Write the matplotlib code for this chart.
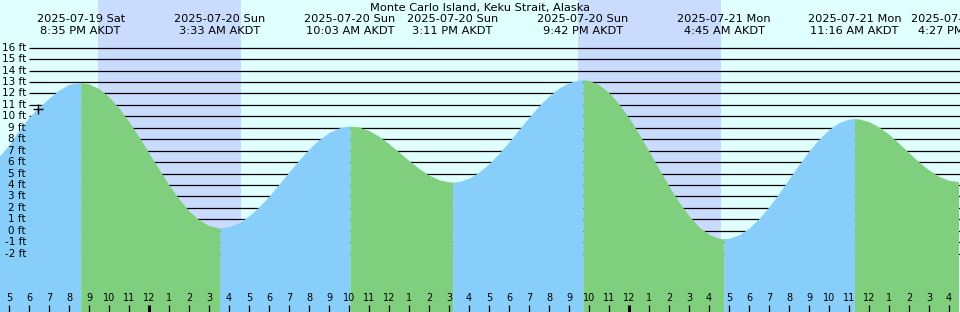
import matplotlib
matplotlib.use("Agg")
import matplotlib.pyplot as plt
import matplotlib.transforms as mtransforms

# time axis: hours after 5 PM AKDT 2025-07-19
title = "Monte Carlo Island, Keku Strait, Alaska"

# high / low tides
ext_hours = [3.583, 10.55, 17.05, 22.183, 28.7, 35.75, 42.267, 47.45]
ext_heights = [12.95, 0.25, 9.15, 4.25, 13.2, -0.7, 9.8, 4.3]
ext_dates = ["2025-07-19 Sat", "2025-07-20 Sun", "2025-07-20 Sun", "2025-07-20 Sun",
             "2025-07-20 Sun", "2025-07-21 Mon", "2025-07-21 Mon", "2025-07-21 Mon"]
ext_times = ["8:35 PM AKDT", "3:33 AM AKDT", "10:03 AM AKDT", "3:11 PM AKDT",
             "9:42 PM AKDT", "4:45 AM AKDT", "11:16 AM AKDT", "4:27 PM AKDT"]

hours = [x / 2 for x in range(-2, 96)]
heights = [5.6, 6.5, 7.5, 8.8, 9.9, 10.8, 11.6, 12.3, 12.8, 12.94,
           12.84, 12.41, 11.70, 10.72, 9.54, 8.20, 6.79, 5.37, 4.00, 2.77,
           1.74, 0.95, 0.44, 0.25, 0.36, 0.71, 1.30, 2.08, 3.02, 4.06,
           5.13, 6.18, 7.14, 7.96, 8.59, 8.99, 9.15, 9.06, 8.75, 8.25,
           7.60, 6.87, 6.13, 5.44, 4.86, 4.46, 4.27, 4.30, 4.59, 5.12,
           5.86, 6.76, 7.78, 8.85, 9.92, 10.91, 11.78, 12.47, 12.95, 13.18,
           13.14, 12.76, 12.07, 11.08, 9.86, 8.46, 6.95, 5.40, 3.90, 2.51,
           1.31, 0.35, -0.32, -0.66, -0.66, -0.36, 0.23, 1.06, 2.10, 3.28,
           4.53, 5.78, 6.97, 8.01, 8.85, 9.45, 9.76, 9.77, 9.53, 9.07,
           8.42, 7.64, 6.81, 6.01, 5.30, 4.74, 4.40, 4.30]

# night (sunset -> sunrise)
sunsets = [4.45, 28.45]
sunrises = [11.6, 35.6]

now_hour, now_height = 1.425, 10.6

levels = list(range(-2, 17))
hour_labels = [str((17 + h - 1) % 12 + 1) for h in range(0, 48)]

# colours
bg = "#e0ffff"
night = "#cadcfe"
rise = "#87cefa"
fall = "#7fcf7f"

W, H = 960, 312
fig = plt.figure(figsize=(W / 100, H / 100), dpi=100)
ax = fig.add_axes([0, 0, 1, 1])
ax.set_facecolor(bg)
fig.patch.set_facecolor(bg)

# pixel mapping: x_px = 9 + 20*h, y_px = 47.7 + 11.44*(16 - ft)
x0 = (0 - 9) / 20
x1 = (W - 9) / 20
ytop = 16 + 47.7 / 11.44
ybot = 16 - (H - 47.7) / 11.44
ax.set_xlim(x0, x1)
ax.set_ylim(ybot, ytop)
ax.axis("off")

def yfrac(px):
    return 1 - px / H

trans = mtransforms.blended_transform_factory(ax.transData, ax.transAxes)

for s, r in zip(sunsets, sunrises):
    ax.axvspan(s, r, color=night, lw=0, zorder=1)

# foot lines (hidden under the water)
for lv in levels:
    ax.plot([1.0, x1], [lv, lv], color="black", lw=0.9, zorder=2, solid_capstyle="butt")
    ax.text(x0 + 26 / 20, lv, "%d ft" % lv, ha="right", va="center",
            fontsize=7.5, zorder=5)

# tide curve, blue while rising, green while falling
pts = sorted(zip(hours + ext_hours, heights + ext_heights))
bounds = [pts[0][0]] + ext_hours + [pts[-1][0]]
for i in range(len(bounds) - 1):
    a, b = bounds[i], bounds[i + 1]
    seg = [(tt, hh) for tt, hh in pts if a <= tt <= b]
    rising = seg[-1][1] > seg[0][1]
    ax.fill_between([p[0] for p in seg], [p[1] for p in seg], ybot,
                    color=rise if rising else fall, lw=0, zorder=3)

ax.plot([now_hour], [now_height], marker="+", color="black", ms=7, mew=1.0,
        zorder=6, ls="none")

# labels at the top
ax.text(0.5, yfrac(7.5), title, transform=ax.transAxes, ha="center",
        va="center", fontsize=8.2, zorder=7)
for xh, d, tm in zip(ext_hours, ext_dates, ext_times):
    ax.text(xh, yfrac(19.5), d, transform=trans, ha="center", va="center",
            fontsize=8.2, zorder=7)
    ax.text(xh, yfrac(31.5), tm, transform=trans, ha="center", va="center",
            fontsize=8.2, zorder=7)

# hour ticks along the bottom
for k, lab in enumerate(hour_labels):
    midnight = (17 + k) % 24 == 0
    ax.plot([k, k], [yfrac(305), 0], transform=trans, color="black",
            lw=2.2 if midnight else 0.9, zorder=7, solid_capstyle="butt")
    ax.text(k, yfrac(298), lab, transform=trans, ha="center", va="center",
            fontsize=7, zorder=7)

fig.savefig("out.png", dpi=100, facecolor=bg)
